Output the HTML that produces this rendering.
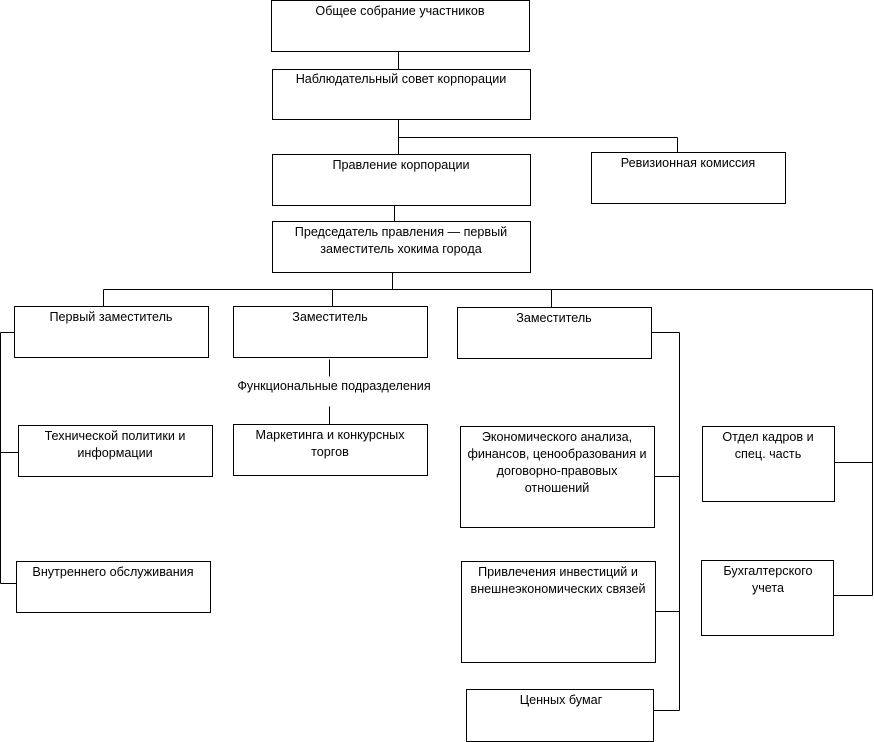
<!DOCTYPE html>
<html><head><meta charset="utf-8"><style>
body{margin:0;width:874px;height:742px;background:#fff;overflow:hidden}
svg{display:block}
text{font-family:"Liberation Sans",Arial,sans-serif;font-size:12.6px;fill:#000;text-anchor:middle}
rect{fill:#fff;stroke:#000;stroke-width:1}
line{stroke:#000;stroke-width:1}
</style></head><body>
<svg width="874" height="742" viewBox="0 0 874 742">
<g transform="translate(0.5,0.5)">
<line x1="398" y1="51" x2="398" y2="69"/>
<line x1="398" y1="119" x2="398" y2="154"/>
<line x1="398" y1="137" x2="677" y2="137"/>
<line x1="677" y1="137" x2="677" y2="152"/>
<line x1="394" y1="205" x2="394" y2="221"/>
<line x1="392" y1="272" x2="392" y2="289"/>
<line x1="103" y1="289" x2="872" y2="289"/>
<line x1="872" y1="289" x2="872" y2="595"/>
<line x1="103" y1="289" x2="103" y2="306"/>
<line x1="332" y1="289" x2="332" y2="306"/>
<line x1="551" y1="289" x2="551" y2="307"/>
<line x1="0" y1="332" x2="0" y2="583"/>
<line x1="0" y1="332" x2="14" y2="332"/>
<line x1="0" y1="452" x2="18" y2="452"/>
<line x1="0" y1="583" x2="16" y2="583"/>
<line x1="329" y1="359" x2="329" y2="376"/>
<line x1="329" y1="406" x2="329" y2="424"/>
<line x1="651" y1="332" x2="679" y2="332"/>
<line x1="679" y1="332" x2="679" y2="710"/>
<line x1="654" y1="476" x2="679" y2="476"/>
<line x1="655" y1="611" x2="679" y2="611"/>
<line x1="653" y1="710" x2="679" y2="710"/>
<line x1="834" y1="462" x2="872" y2="462"/>
<line x1="833" y1="595" x2="872" y2="595"/>
<rect x="271" y="0" width="258" height="51"/>
<rect x="272" y="69" width="258" height="50"/>
<rect x="272" y="154" width="258" height="51"/>
<rect x="591" y="152" width="194" height="51"/>
<rect x="272" y="221" width="258" height="51"/>
<rect x="14" y="306" width="194" height="51"/>
<rect x="233" y="306" width="194" height="51"/>
<rect x="457" y="307" width="194" height="51"/>
<rect x="18" y="425" width="194" height="51"/>
<rect x="16" y="561" width="194" height="51"/>
<rect x="233" y="424" width="194" height="51"/>
<rect x="460" y="426" width="194" height="101"/>
<rect x="461" y="561" width="194" height="101"/>
<rect x="466" y="689" width="187" height="52"/>
<rect x="702" y="426" width="132" height="75"/>
<rect x="701" y="560" width="132" height="75"/>
</g>
<text x="400" y="15">Общее собрание участников</text>
<text x="401" y="83">Наблюдательный совет корпорации</text>
<text x="401" y="169">Правление корпорации</text>
<text x="688" y="167">Ревизионная комиссия</text>
<text x="401" y="236">Председатель правления — первый</text>
<text x="401" y="253">заместитель хокима города</text>
<text x="111" y="321">Первый заместитель</text>
<text x="330" y="321">Заместитель</text>
<text x="554" y="322">Заместитель</text>
<text x="334" y="390">Функциональные подразделения</text>
<text x="115" y="440">Технической политики и</text>
<text x="115" y="457">информации</text>
<text x="113" y="576">Внутреннего обслуживания</text>
<text x="330" y="439">Маркетинга и конкурсных</text>
<text x="330" y="456">торгов</text>
<text x="557" y="441">Экономического анализа,</text>
<text x="557" y="458">финансов, ценообразования и</text>
<text x="557" y="475">договорно-правовых</text>
<text x="557" y="492">отношений</text>
<text x="558" y="576">Привлечения инвестиций и</text>
<text x="558" y="593">внешнеэкономических связей</text>
<text x="561" y="704">Ценных бумаг</text>
<text x="768" y="441">Отдел кадров и</text>
<text x="768" y="458">спец. часть</text>
<text x="768" y="575">Бухгалтерского</text>
<text x="768" y="592">учета</text>
</svg>
</body></html>
